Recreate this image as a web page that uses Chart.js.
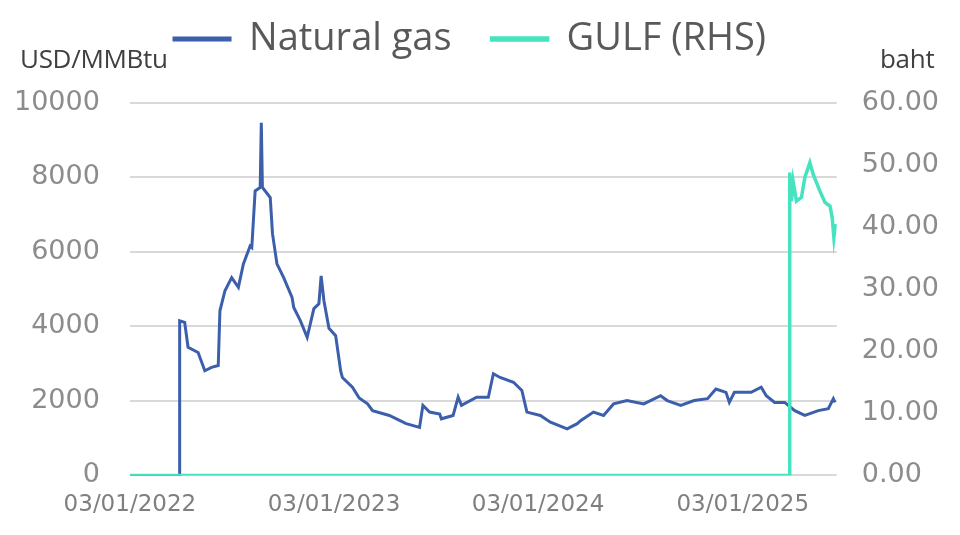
<!DOCTYPE html>
<html>
<head>
<meta charset="utf-8">
<script src="https://cdn.jsdelivr.net/npm/chart.js@4.4.1/dist/chart.umd.min.js"></script>
<style>
  body { margin: 0; background: #fff; }
  #wrap { position: relative; width: 960px; height: 535px; }
  .unit { position: absolute; top: 40px; font-family: 'Open Sans', sans-serif; font-size: 26px; color: #404040; letter-spacing: -0.3px; }
</style>
</head>
<body>
<div id="wrap">
  <canvas id="chartGas"></canvas>
  <div class="unit" style="left:20px">USD/MMBtu</div>
  <div class="unit" style="left:880px">baht</div>
</div>
<script>
// dates are the points where the lines turn
var gasDates = ['2022-01-03', '2022-04-01', '2022-04-02', '2022-04-11', '2022-04-17', '2022-05-05', '2022-05-17', '2022-05-29',
  '2022-06-10', '2022-06-13', '2022-06-22', '2022-07-04', '2022-07-16', '2022-07-25', '2022-08-06', '2022-08-09',
  '2022-08-15', '2022-08-24', '2022-08-26', '2022-08-28', '2022-09-11', '2022-09-15', '2022-09-23', '2022-10-05',
  '2022-10-20', '2022-10-23', '2022-11-04', '2022-11-16', '2022-11-28', '2022-12-07', '2022-12-11', '2022-12-16',
  '2022-12-25', '2023-01-06', '2023-01-15', '2023-01-18', '2023-02-05', '2023-02-17', '2023-03-04', '2023-03-13',
  '2023-04-12', '2023-05-12', '2023-06-05', '2023-06-11', '2023-06-23', '2023-07-11', '2023-07-14', '2023-08-04',
  '2023-08-13', '2023-08-19', '2023-09-15', '2023-10-06', '2023-10-15', '2023-10-27', '2023-11-20', '2023-12-05',
  '2023-12-14', '2024-01-07', '2024-01-25', '2024-02-24', '2024-03-13', '2024-03-19', '2024-04-11', '2024-04-29',
  '2024-05-17', '2024-06-10', '2024-07-10', '2024-08-09', '2024-08-21', '2024-09-14', '2024-10-08', '2024-11-01',
  '2024-11-16', '2024-12-04', '2024-12-10', '2024-12-19', '2025-01-18', '2025-02-05', '2025-02-14', '2025-03-01',
  '2025-03-19', '2025-04-06', '2025-04-24', '2025-05-18', '2025-06-05', '2025-06-14', '2025-06-17'];
var gasValues = [0, 0, 4150, 4110, 3440, 3300, 2810, 2900,
  2950, 4420, 4960, 5310, 5050, 5680, 6160, 6120,
  7640, 7730, 9470, 7730, 7460, 6490, 5680, 5310,
  4780, 4510, 4150, 3710, 4480, 4610, 5360, 4690,
  3950, 3750, 2800, 2630, 2370, 2080, 1920, 1740,
  1610, 1390, 1290, 1880, 1700, 1650, 1520, 1610,
  2100, 1880, 2100, 2100, 2730, 2630, 2500, 2280,
  1700, 1610, 1430, 1250, 1390, 1470, 1700, 1610,
  1920, 2010, 1920, 2140, 2010, 1880, 2010, 2060,
  2320, 2230, 1960, 2230, 2230, 2370, 2140, 1960,
  1960, 1740, 1610, 1740, 1790, 2060, 1960];

var gulfDates = ['2022-01-03', '2025-03-27', '2025-03-28', '2025-03-31', '2025-04-03', '2025-04-09', '2025-04-18',
  '2025-04-24', '2025-05-03', '2025-05-09', '2025-05-21', '2025-05-30', '2025-06-08', '2025-06-12', '2025-06-15', '2025-06-18'];
var gulfValues = [0, 0, 48.8, 44.2, 47.4, 44.2, 44.8,
  48.0, 50.4, 48.5, 45.8, 44.0, 43.4, 41.5, 38.3, 40.5];

var xTickDates = ['2022-01-03', '2023-01-03', '2024-01-03', '2025-01-03'];
var xEndDate = '2025-06-20';
var leftTicks = [0, 2000, 4000, 6000, 8000, 10000];
var rightTicks = [0, 10, 20, 30, 40, 50, 60];

var baseTime = Date.parse(xTickDates[0]);
function dayOf(d) { return (Date.parse(d) - baseTime) / 86400000; }
function pad(n) { return n < 10 ? '0' + n : '' + n; }
function dayLabel(v) {
  var t = new Date(baseTime + Math.round(v) * 86400000);
  return pad(t.getUTCDate()) + '/' + pad(t.getUTCMonth() + 1) + '/' + t.getUTCFullYear();
}
function points(dates, vals) {
  return dates.map(function (d, i) { return { x: dayOf(d), y: vals[i] }; });
}

var tickFont = { family: "'DejaVu Sans', sans-serif", size: 27 };

// legend sits high, leave a gap under it before the plot
var legendGap = {
  id: 'legendGap',
  beforeInit: function (chart) {
    var fit = chart.legend.fit;
    chart.legend.fit = function () {
      fit.bind(chart.legend)();
      this.height += 35;
    };
  }
};

var ctx = document.getElementById('chartGas').getContext('2d');
var myChart = new Chart(ctx, {
  type: 'line',
  data: {
    datasets: [{
      label: 'Natural gas',
      data: points(gasDates, gasValues),
      borderColor: '#3c5fab',
      backgroundColor: '#3c5fab',
      borderWidth: 3,
      pointRadius: 0,
      tension: 0,
      yAxisID: 'y',
      order: 2
    }, {
      label: 'GULF (RHS)',
      data: points(gulfDates, gulfValues),
      borderColor: '#45e3bf',
      backgroundColor: '#45e3bf',
      borderWidth: 3.5,
      pointRadius: 0,
      tension: 0,
      yAxisID: 'y1',
      order: 1
    }]
  },
  plugins: [legendGap],
  options: {
    responsive: true,
    maintainAspectRatio: false,
    animation: false,
    layout: { padding: { left: -16, right: 4, top: -20, bottom: 8 } },
    plugins: {
      tooltip: { enabled: false },
      legend: {
        position: 'top',
        labels: {
          sort: function (a, b) { return a.datasetIndex - b.datasetIndex; },
          boxWidth: 56,
          boxHeight: 2,
          padding: 40,
          color: '#595959',
          font: { family: "'Open Sans', sans-serif", size: 38 }
        }
      }
    },
    scales: {
      x: {
        type: 'linear',
        min: 0,
        max: dayOf(xEndDate),
        afterBuildTicks: function (axis) {
          axis.ticks = xTickDates.map(function (d) { return { value: dayOf(d) }; });
        },
        ticks: {
          autoSkip: false,
          maxRotation: 0,
          color: '#7f7f7f',
          font: { family: "'DejaVu Sans', sans-serif", size: 23 },
          padding: 8,
          callback: function (v) { return dayLabel(v); }
        },
        grid: { display: false },
        border: { display: false }
      },
      y: {
        position: 'left',
        min: 0,
        max: 10000,
        afterBuildTicks: function (axis) {
          axis.ticks = leftTicks.map(function (v) { return { value: v }; });
        },
        ticks: {
          color: '#8c8c8c',
          font: tickFont,
          padding: 30,
          callback: function (v) { return String(v); }
        },
        grid: { color: '#d9d9d9', lineWidth: 2, drawTicks: false },
        border: { display: false }
      },
      y1: {
        position: 'right',
        min: 0,
        max: 60,
        afterBuildTicks: function (axis) {
          axis.ticks = rightTicks.map(function (v) { return { value: v }; });
        },
        ticks: {
          color: '#8c8c8c',
          font: tickFont,
          padding: 17,
          callback: function (v) { return v.toFixed(2); }
        },
        grid: { display: false },
        border: { display: false }
      }
    }
  }
});
</script>
</body>
</html>
